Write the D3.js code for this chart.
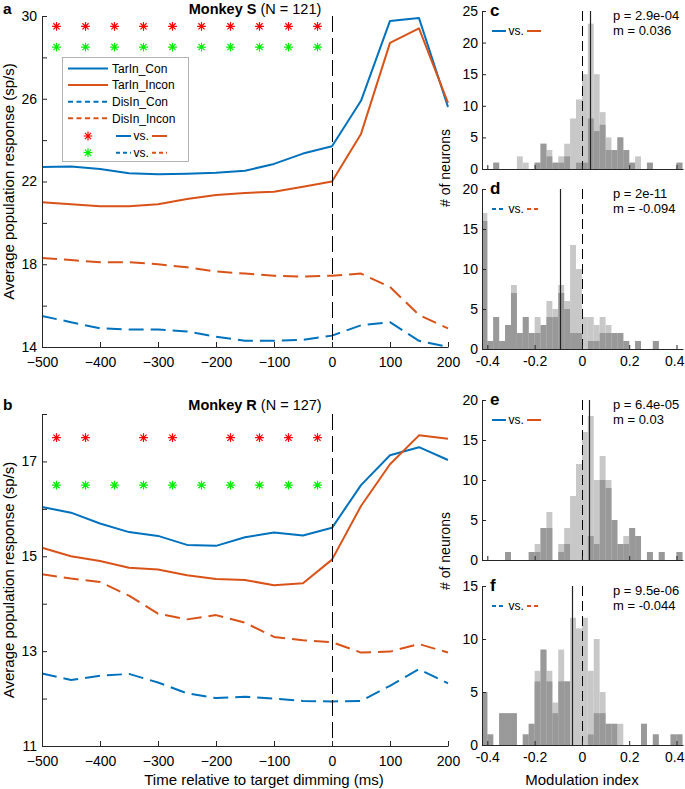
<!DOCTYPE html>
<html>
<head>
<meta charset="utf-8">
<script src="https://cdn.jsdelivr.net/npm/d3@7"></script>
<style>
  body { margin: 0; background: #fff; }
  svg { font-family: "Liberation Sans", Arial, sans-serif; }
</style>
</head>
<body>
<svg id="fig" width="685" height="789"></svg>
<script>
// time axis of the population responses (ms)
var times = [-500, -450, -400, -350, -300, -250, -200, -150, -100, -50, 0, 50, 100, 150, 200];

// Monkey S
var tarConS   = [22.70, 22.72, 22.60, 22.40, 22.35, 22.38, 22.42, 22.52, 22.85, 23.35, 23.70, 25.90, 29.76, 29.90, 25.60];
var tarInconS = [21.00, 20.90, 20.80, 20.80, 20.90, 21.15, 21.35, 21.45, 21.50, 21.75, 22.00, 24.30, 28.70, 29.40, 25.80];
var disConS   = [15.50, 15.20, 14.90, 14.85, 14.85, 14.75, 14.50, 14.30, 14.30, 14.35, 14.55, 15.05, 15.20, 14.30, 14.00];
var disInconS = [18.30, 18.20, 18.10, 18.10, 18.00, 17.85, 17.65, 17.55, 17.45, 17.40, 17.45, 17.55, 16.90, 15.55, 14.90];

// Monkey R
var tarConR   = [16.04, 15.92, 15.69, 15.51, 15.43, 15.24, 15.22, 15.40, 15.50, 15.44, 15.60, 16.50, 17.13, 17.30, 17.03];
var tarInconR = [15.18, 15.00, 14.90, 14.76, 14.72, 14.60, 14.52, 14.50, 14.39, 14.43, 14.93, 16.06, 16.94, 17.55, 17.48];
var disConR   = [12.53, 12.39, 12.48, 12.52, 12.34, 12.11, 12.01, 12.04, 12.00, 11.95, 11.94, 11.95, 12.27, 12.62, 12.32];
var disInconR = [14.62, 14.53, 14.46, 14.17, 13.79, 13.67, 13.76, 13.60, 13.30, 13.23, 13.19, 12.97, 12.99, 13.15, 12.97];

// significance markers (bin centres)
var redStarsS   = [-475, -425, -375, -325, -275, -225, -175, -125, -75, -25];
var greenStarsS = [-475, -425, -375, -325, -275, -225, -175, -125, -75, -25];
var redStarsR   = [-475, -425, -325, -275, -175, -125, -75, -25];
var greenStarsR = [-475, -425, -375, -325, -275, -225, -175, -125, -75, -25];

// histogram bins of modulation index
var binEdges = [-0.425, -0.4, -0.375, -0.35, -0.325, -0.3, -0.275, -0.25, -0.225, -0.2, -0.175, -0.15, -0.125,
                -0.1, -0.075, -0.05, -0.025, 0, 0.025, 0.05, 0.075, 0.1, 0.125, 0.15, 0.175, 0.2, 0.225,
                0.25, 0.275, 0.3, 0.325, 0.35, 0.375, 0.4, 0.425];

var histAllC  = [0,0,1,0,0,0,2,1,0,1,4,3,1,2,4,8,11,15,23,15,9,5,3,5,3,1,2,0,1,0,0,0,0,1];
var histSigC  = [0,0,1,0,0,0,0,0,0,1,4,2,1,1,2,0,1,1,8,6,7,3,3,5,3,1,0,0,1,0,0,0,0,1];
var histAllD  = [17,1,4,1,3,8,2,4,2,4,3,6,5,8,6,13,10,4,4,3,4,3,2,2,1,0,1,0,0,1,0,0,0,0];
var histSigD  = [16,1,4,1,3,7,2,4,2,2,3,4,4,7,5,2,2,0,1,1,2,2,2,2,1,0,1,0,0,1,0,0,0,0];
var histAllE  = [0,0,0,0,1,0,0,0,1,2,4,6,0,2,4,8,12,16,18,10,13,10,5,2,3,4,3,0,1,0,1,0,0,1];
var histSigE  = [0,0,0,0,1,0,0,0,1,1,4,4,0,1,2,0,0,0,3,2,10,9,5,2,2,4,3,0,1,0,1,0,0,1];
var histAllF  = [5,1,0,3,3,3,0,1,2,7,9,7,4,9,6,12,11,12,7,10,5,2,2,2,0,0,0,2,0,1,0,0,1,1];
var histSigF  = [5,1,0,3,3,3,0,1,2,6,9,6,3,6,6,0,0,0,1,3,3,2,2,0,0,0,0,2,0,1,0,0,1,1];

var timeTicks = [-500, -400, -300, -200, -100, 0, 100, 200];
var miTicks = [-0.4, -0.2, 0, 0.2, 0.4];

var blue = "#0072BD", orange = "#D95319", ink = "#262626",
    lightGrey = "#c8c8c8", darkGrey = "#999999";

var svg = d3.select("#fig");

function styleAxis(g, size) {
    g.attr("font-family", null).attr("font-size", size);
    g.selectAll("path, line").attr("stroke", ink);
    g.selectAll("text").attr("fill", "#000");
}

function star(g, cx, cy, color) {
    var r = 4.4, q = 3.1;
    g.append("path")
        .attr("d", "M" + (cx - r) + "," + cy + "H" + (cx + r) + "M" + cx + "," + (cy - r) + "V" + (cy + r) +
            "M" + (cx - q) + "," + (cy - q) + "L" + (cx + q) + "," + (cy + q) +
            "M" + (cx - q) + "," + (cy + q) + "L" + (cx + q) + "," + (cy - q))
        .attr("stroke", color).attr("stroke-width", 1.2).attr("fill", "none");
}

function vline(g, xv, y1, y2, dash, width, color) {
    g.append("line").attr("x1", Math.round(xv) + 0.5).attr("x2", Math.round(xv) + 0.5)
        .attr("y1", y1).attr("y2", y2)
        .attr("stroke", color).attr("stroke-width", width).attr("stroke-dasharray", dash);
}

function drawLinePanel(cfg) {
    var g = svg.append("g"),
        x = d3.scaleLinear().domain([-500, 200]).range([42, 448]),
        y = d3.scaleLinear().domain(cfg.yDomain).range([cfg.bottom, cfg.top]),
        line = d3.line().x(function(d, i){ return x(times[i]); }).y(function(d){ return y(d); });

    var series = [
        {v: cfg.tarCon, c: blue, dash: null},
        {v: cfg.tarIncon, c: orange, dash: null},
        {v: cfg.disCon, c: blue, dash: "15,7"},
        {v: cfg.disIncon, c: orange, dash: "15,7"}
    ];
    series.forEach(function(s){
        g.append("path").attr("d", line(s.v)).attr("fill", "none")
            .attr("stroke", s.c).attr("stroke-width", 2).attr("stroke-dasharray", s.dash)
            .attr("stroke-linejoin", "round");
    });

    vline(g, x(0), cfg.top, cfg.bottom, "16,6", 1, "#000");

    cfg.red.forEach(function(t){ star(g, x(t), y(cfg.redY), "#ff0000"); });
    cfg.green.forEach(function(t){ star(g, x(t), y(cfg.greenY), "#00ee00"); });

    var ya = g.append("g").attr("transform", "translate(42,0)")
        .call(d3.axisLeft(y).tickValues(cfg.yTicks)
            .tickFormat(function(d){ return cfg.yLabels.indexOf(d) >= 0 ? d : ""; })
            .tickSizeInner(-5).tickSizeOuter(0).tickPadding(5));
    styleAxis(ya, 14);

    var xa = g.append("g").attr("transform", "translate(0," + cfg.bottom + ")")
        .call(d3.axisBottom(x).tickValues(timeTicks).tickSizeInner(-5).tickSizeOuter(0).tickPadding(10));
    styleAxis(xa, 14);

    var title = g.append("text").attr("x", 255).attr("y", cfg.titleY).attr("text-anchor", "middle")
        .attr("font-size", 14.5);
    title.append("tspan").attr("font-weight", "bold").text(cfg.name);
    title.append("tspan").text(" " + cfg.n);

    g.append("text").attr("x", 3).attr("y", cfg.titleY).attr("font-size", 15.5).attr("font-weight", "bold")
        .text(cfg.letter);

    g.append("text").attr("transform", "translate(14," + ((cfg.top + cfg.bottom) / 2) + ") rotate(-90)")
        .attr("text-anchor", "middle").attr("font-size", 15)
        .text("Average population response (sp/s)");
}

function drawLegend() {
    var g = svg.append("g");
    g.append("rect").attr("x", 62.5).attr("y", 57.5).attr("width", 126).attr("height", 104)
        .attr("fill", "#fff").attr("stroke", "#a0a0a0").attr("stroke-width", 0.8);
    var rows = [
        {name: "TarIn_Con", c: blue, dash: null, y: 68.5},
        {name: "TarIn_Incon", c: orange, dash: null, y: 85},
        {name: "DisIn_Con", c: blue, dash: "5,3.5", y: 101.7},
        {name: "DisIn_Incon", c: orange, dash: "5,3.5", y: 118.3}
    ];
    rows.forEach(function(r){
        g.append("line").attr("x1", 68).attr("x2", 108).attr("y1", r.y).attr("y2", r.y)
            .attr("stroke", r.c).attr("stroke-width", 2).attr("stroke-dasharray", r.dash);
        g.append("text").attr("x", 112).attr("y", r.y + 4.3).attr("font-size", 12).text(r.name);
    });
    star(g, 88, 136, "#ff0000");
    star(g, 88, 152.7, "#00ee00");
    vsKey(g, 116, 136, null, 15);
    vsKey(g, 116, 152.7, "4,3", 15);
}

function vsKey(g, x0, yy, dash, len) {
    g.append("line").attr("x1", x0).attr("x2", x0 + len).attr("y1", yy).attr("y2", yy)
        .attr("stroke", blue).attr("stroke-width", 2).attr("stroke-dasharray", dash);
    g.append("text").attr("x", x0 + len + 2.5).attr("y", yy + 4.2).attr("font-size", 12).text("vs.");
    g.append("line").attr("x1", x0 + len + 21).attr("x2", x0 + 2 * len + 21).attr("y1", yy).attr("y2", yy)
        .attr("stroke", orange).attr("stroke-width", 2).attr("stroke-dasharray", dash);
}

function drawHist(cfg) {
    var g = svg.append("g"),
        x = d3.scaleLinear().domain([-0.4225, 0.4275]).range([482, 683]),
        y = d3.scaleLinear().domain([0, cfg.yMax]).range([cfg.bottom, cfg.top]),
        clipId = "clip" + cfg.letter;

    g.append("clipPath").attr("id", clipId).append("rect")
        .attr("x", 482).attr("y", cfg.top).attr("width", 201).attr("height", cfg.bottom - cfg.top);

    var bars = g.append("g").attr("clip-path", "url(#" + clipId + ")");
    [[cfg.all, lightGrey], [cfg.sig, darkGrey]].forEach(function(h){
        bars.selectAll(null).data(h[0]).enter().append("rect")
            .attr("x", function(d, i){ return x(binEdges[i]); })
            .attr("width", function(d, i){ return x(binEdges[i + 1]) - x(binEdges[i]); })
            .attr("y", function(d){ return y(d); })
            .attr("height", function(d){ return y(0) - y(d); })
            .attr("fill", h[1]);
    });

    vline(g, x(0), cfg.top, cfg.bottom, "10,5", 1, "#000");
    vline(g, x(cfg.m), cfg.top, cfg.bottom, null, 1.2, "#222");

    var ya = g.append("g").attr("transform", "translate(482,0)")
        .call(d3.axisLeft(y).tickValues(d3.range(0, cfg.yMax + 1, 5))
            .tickSizeInner(-4).tickSizeOuter(0).tickPadding(4));
    styleAxis(ya, 14);

    var xa = g.append("g").attr("transform", "translate(0," + cfg.bottom + ")")
        .call(d3.axisBottom(x).tickValues(miTicks)
            .tickFormat(function(d){ return cfg.xLabels ? d : ""; })
            .tickSizeInner(-4).tickSizeOuter(0).tickPadding(7));
    styleAxis(xa, 14);
    // keep the last label inside the page edge
    xa.selectAll(".tick").filter(function(d){ return d === 0.4; }).select("text")
        .attr("text-anchor", "end").attr("x", 684 - x(0.4));

    g.append("text").attr("x", 490).attr("y", Math.max(cfg.top + 5, 15)).attr("font-size", 17).attr("font-weight", "bold")
        .text(cfg.letter);
    g.append("text").attr("x", 613).attr("y", cfg.top + 9).attr("font-size", 13).text(cfg.p);
    g.append("text").attr("x", 613).attr("y", cfg.top + 24).attr("font-size", 13).text(cfg.mText);

    vsKey(g, 492, cfg.top + 20, cfg.dashed ? "4,3" : null, 14);
}

drawLinePanel({
    top: 16, bottom: 347, yDomain: [14, 30], titleY: 14,
    yTicks: [14, 16, 18, 20, 22, 24, 26, 28, 30], yLabels: [14, 18, 22, 26, 30],
    tarCon: tarConS, tarIncon: tarInconS, disCon: disConS, disIncon: disInconS,
    red: redStarsS, green: greenStarsS, redY: 29.5, greenY: 28.5,
    name: "Monkey S", n: "(N = 121)", letter: "a"
});
drawLegend();

drawLinePanel({
    top: 414, bottom: 746, yDomain: [11, 18], titleY: 409.5,
    yTicks: [11, 12, 13, 14, 15, 16, 17, 18], yLabels: [11, 13, 15, 17],
    tarCon: tarConR, tarIncon: tarInconR, disCon: disConR, disIncon: disInconR,
    red: redStarsR, green: greenStarsR, redY: 17.5, greenY: 16.5,
    name: "Monkey R", n: "(N = 127)", letter: "b"
});

svg.append("text").attr("x", 264).attr("y", 785).attr("text-anchor", "middle").attr("font-size", 15)
    .text("Time relative to target dimming (ms)");

drawHist({top: 11, bottom: 169, yMax: 25, all: histAllC, sig: histSigC, m: 0.036,
    p: "p = 2.9e-04", mText: "m = 0.036", letter: "c", dashed: false, xLabels: false});
drawHist({top: 189, bottom: 349, yMax: 20, all: histAllD, sig: histSigD, m: -0.094,
    p: "p = 2e-11", mText: "m = -0.094", letter: "d", dashed: true, xLabels: true});
drawHist({top: 400, bottom: 560, yMax: 20, all: histAllE, sig: histSigE, m: 0.03,
    p: "p = 6.4e-05", mText: "m = 0.03", letter: "e", dashed: false, xLabels: false});
drawHist({top: 586, bottom: 745, yMax: 15, all: histAllF, sig: histSigF, m: -0.044,
    p: "p = 9.5e-06", mText: "m = -0.044", letter: "f", dashed: true, xLabels: true});

svg.append("text").attr("transform", "translate(450,168) rotate(-90)").attr("text-anchor", "middle")
    .attr("font-size", 14).text("# of neurons");
svg.append("text").attr("transform", "translate(450,551) rotate(-90)").attr("text-anchor", "middle")
    .attr("font-size", 14).text("# of neurons");
svg.append("text").attr("x", 582).attr("y", 785).attr("text-anchor", "middle").attr("font-size", 15)
    .text("Modulation index");
</script>
</body>
</html>
